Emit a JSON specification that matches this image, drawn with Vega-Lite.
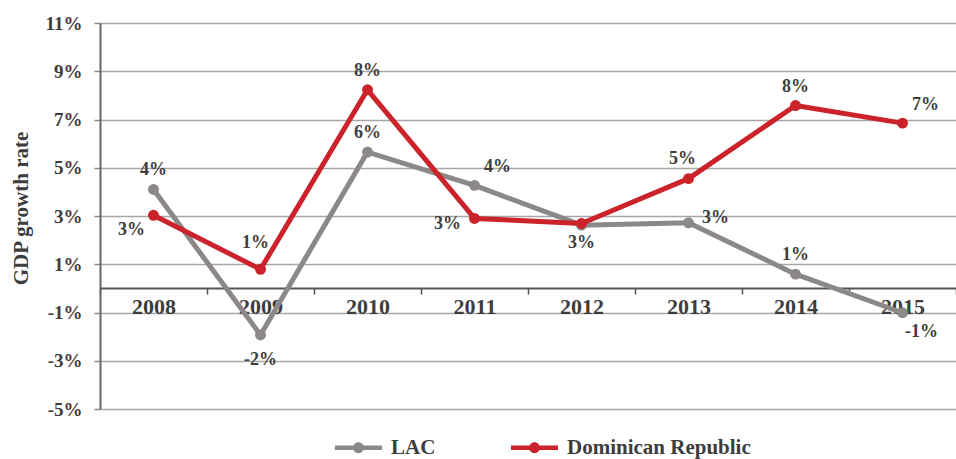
{
  "$schema": "https://vega.github.io/schema/vega-lite/v6.json",
  "width": 856,
  "height": 386,
  "autosize": {"type": "none"},
  "padding": {"left": 100, "top": 23, "right": 0, "bottom": 50},
  "background": "white",
  "config": {
    "view": {"stroke": null},
    "locale": {"number": {"decimal": ".", "thousands": ",", "grouping": [3], "currency": ["$", ""], "minus": "-"}}
  },
  "data": {
    "values": [
      {"year": "2008", "series": "LAC", "value": 0.041},
      {"year": "2009", "series": "LAC", "value": -0.0193},
      {"year": "2010", "series": "LAC", "value": 0.0565},
      {"year": "2011", "series": "LAC", "value": 0.0427},
      {"year": "2012", "series": "LAC", "value": 0.0262},
      {"year": "2013", "series": "LAC", "value": 0.0272},
      {"year": "2014", "series": "LAC", "value": 0.0059},
      {"year": "2015", "series": "LAC", "value": -0.0101},
      {"year": "2008", "series": "Dominican Republic", "value": 0.0303},
      {"year": "2009", "series": "Dominican Republic", "value": 0.0079},
      {"year": "2010", "series": "Dominican Republic", "value": 0.0823},
      {"year": "2011", "series": "Dominican Republic", "value": 0.029},
      {"year": "2012", "series": "Dominican Republic", "value": 0.0269},
      {"year": "2013", "series": "Dominican Republic", "value": 0.0455},
      {"year": "2014", "series": "Dominican Republic", "value": 0.0758},
      {"year": "2015", "series": "Dominican Republic", "value": 0.0685}
    ]
  },
  "encoding": {
    "x": {
      "field": "year", "type": "ordinal",
      "scale": {"type": "band", "paddingInner": 0, "paddingOuter": 0},
      "axis": {
        "title": null, "orient": "bottom", "offset": -121, "tickBand": "extent",
        "domainColor": "#555555", "domainWidth": 2, "tickColor": "#555555", "tickWidth": 1.5, "tickSize": 6,
        "labelFont": "Liberation Serif", "labelFontWeight": "bold", "labelFontSize": 22,
        "labelColor": "#3d3d3d", "labelAngle": 0, "labelPadding": 2, "grid": false
      }
    },
    "y": {
      "field": "value", "type": "quantitative",
      "scale": {"domain": [-0.05, 0.11], "nice": false, "zero": false},
      "axis": {
        "title": "GDP growth rate",
        "values": [-0.05, -0.03, -0.01, 0.01, 0.03, 0.05, 0.07, 0.09, 0.11],
        "format": ".0%", "grid": true, "gridColor": "#a6a6a6", "gridWidth": 1.5,
        "domainColor": "#666666", "domainWidth": 2, "tickColor": "#888888", "tickWidth": 1.5, "tickSize": 6,
        "labelFont": "Liberation Serif", "labelFontWeight": "bold", "labelFontSize": 19,
        "labelColor": "#3d3d3d", "labelPadding": 12,
        "titleFont": "Liberation Serif", "titleFontWeight": "bold", "titleFontSize": 21,
        "titleColor": "#3d3d3d", "titleAngle": -90, "titleAlign": "center", "titleBaseline": "middle",
        "titleX": -79, "titleY": 185
      }
    },
    "color": {
      "field": "series", "type": "nominal",
      "scale": {"domain": ["LAC", "Dominican Republic"], "range": ["#8c8888", "#cc2229"]},
      "legend": {
        "title": null, "orient": "none", "legendX": 235, "legendY": 401, "direction": "horizontal",
        "symbolType": "M-1,-0.1L1,-0.1L1,0.1L-1,0.1Z M-0.23,0A0.23,0.23 0 1,1 0.23,0A0.23,0.23 0 1,1 -0.23,0Z",
        "symbolSize": 2209, "symbolStrokeWidth": 0, "symbolOpacity": 1,
        "labelFont": "Liberation Serif", "labelFontWeight": "bold", "labelFontSize": 21, "labelLimit": 400,
        "labelColor": "#3d3d3d", "columnPadding": 75, "labelOffset": 9,
        "encode": {"symbols": {"update": {"fill": {"scale": "color", "field": "value"}, "stroke": {"value": "transparent"}}}}
      }
    }
  },
  "layer": [
    {"mark": {"type": "line", "strokeWidth": 5, "strokeCap": "round", "strokeJoin": "round"}},
    {"mark": {"type": "point", "filled": true, "size": 120, "opacity": 1}},
    {
      "transform": [{"filter": "indexof(['LAC2008','LAC2010','LAC2014','Dominican Republic2010','Dominican Republic2014'], datum.series + datum.year) >= 0"}],
      "mark": {"type": "text", "dx": 0, "dy": -19, "font": "Liberation Serif", "fontWeight": "bold", "fontSize": 18, "baseline": "middle", "align": "center"},
      "encoding": {"text": {"field": "value", "type": "quantitative", "format": ".0%"}, "color": {"value": "#3d3d3d"}}
    },
    {
      "transform": [{"filter": "datum.series + datum.year == 'Dominican Republic2009'"}],
      "mark": {"type": "text", "dx": -5, "dy": -26, "font": "Liberation Serif", "fontWeight": "bold", "fontSize": 18, "baseline": "middle", "align": "center"},
      "encoding": {"text": {"field": "value", "type": "quantitative", "format": ".0%"}, "color": {"value": "#3d3d3d"}}
    },
    {
      "transform": [{"filter": "datum.series + datum.year == 'Dominican Republic2013'"}],
      "mark": {"type": "text", "dx": -6, "dy": -20, "font": "Liberation Serif", "fontWeight": "bold", "fontSize": 18, "baseline": "middle", "align": "center"},
      "encoding": {"text": {"field": "value", "type": "quantitative", "format": ".0%"}, "color": {"value": "#3d3d3d"}}
    },
    {
      "transform": [{"filter": "datum.series + datum.year == 'LAC2009'"}],
      "mark": {"type": "text", "dx": 0, "dy": 25, "font": "Liberation Serif", "fontWeight": "bold", "fontSize": 18, "baseline": "middle", "align": "center"},
      "encoding": {"text": {"field": "value", "type": "quantitative", "format": ".0%"}, "color": {"value": "#3d3d3d"}}
    },
    {
      "transform": [{"filter": "datum.series + datum.year == 'Dominican Republic2012'"}],
      "mark": {"type": "text", "dx": 0, "dy": 20, "font": "Liberation Serif", "fontWeight": "bold", "fontSize": 18, "baseline": "middle", "align": "center"},
      "encoding": {"text": {"field": "value", "type": "quantitative", "format": ".0%"}, "color": {"value": "#3d3d3d"}}
    },
    {
      "transform": [{"filter": "indexof(['LAC2011','Dominican Republic2015'], datum.series + datum.year) >= 0"}],
      "mark": {"type": "text", "dx": 23, "dy": -18, "font": "Liberation Serif", "fontWeight": "bold", "fontSize": 18, "baseline": "middle", "align": "center"},
      "encoding": {"text": {"field": "value", "type": "quantitative", "format": ".0%"}, "color": {"value": "#3d3d3d"}}
    },
    {
      "transform": [{"filter": "datum.series + datum.year == 'LAC2013'"}],
      "mark": {"type": "text", "dx": 27, "dy": -5, "font": "Liberation Serif", "fontWeight": "bold", "fontSize": 18, "baseline": "middle", "align": "center"},
      "encoding": {"text": {"field": "value", "type": "quantitative", "format": ".0%"}, "color": {"value": "#3d3d3d"}}
    },
    {
      "transform": [{"filter": "datum.series + datum.year == 'LAC2015'"}],
      "mark": {"type": "text", "dx": 19, "dy": 19, "font": "Liberation Serif", "fontWeight": "bold", "fontSize": 18, "baseline": "middle", "align": "center"},
      "encoding": {"text": {"field": "value", "type": "quantitative", "format": ".0%"}, "color": {"value": "#3d3d3d"}}
    },
    {
      "transform": [{"filter": "datum.series + datum.year == 'Dominican Republic2008'"}],
      "mark": {"type": "text", "dx": -22, "dy": 15, "font": "Liberation Serif", "fontWeight": "bold", "fontSize": 18, "baseline": "middle", "align": "center"},
      "encoding": {"text": {"field": "value", "type": "quantitative", "format": ".0%"}, "color": {"value": "#3d3d3d"}}
    },
    {
      "transform": [{"filter": "datum.series + datum.year == 'Dominican Republic2011'"}],
      "mark": {"type": "text", "dx": -27, "dy": 6, "font": "Liberation Serif", "fontWeight": "bold", "fontSize": 18, "baseline": "middle", "align": "center"},
      "encoding": {"text": {"field": "value", "type": "quantitative", "format": ".0%"}, "color": {"value": "#3d3d3d"}}
    }
  ]
}
